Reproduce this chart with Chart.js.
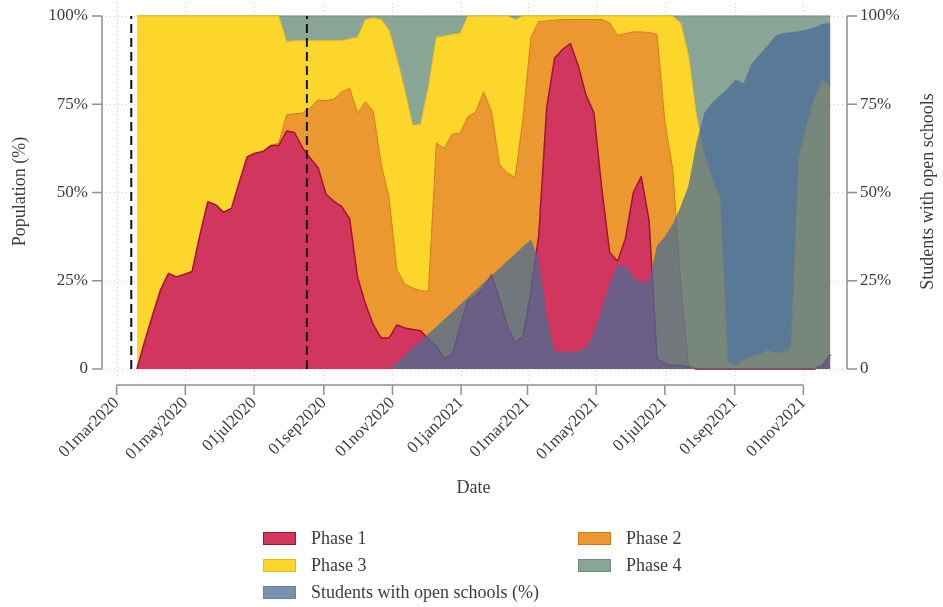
<!DOCTYPE html>
<html>
<head>
<meta charset="utf-8">
<script src="https://cdn.jsdelivr.net/npm/chart.js@4.4.1/dist/chart.umd.min.js"></script>
<style>
  html, body { margin: 0; padding: 0; background: #fff; overflow: hidden; }
  #wrap { position: relative; width: 943px; height: 607px; }
  #c { position: absolute; left: 0; top: 0; }
  #legend {
    position: absolute; left: 263px; top: 527px;
    display: grid; grid-template-columns: 315px 260px; row-gap: 5px;
    font-family: 'Liberation Serif', serif; font-size: 18px; color: #3c3c3c;
  }
  .item { display: flex; align-items: center; height: 22px; white-space: nowrap; }
  .sw { width: 33px; height: 13px; box-sizing: border-box; border: 1px solid; margin-right: 15px; flex: none; }
</style>
</head>
<body>
<div id="wrap">
  <canvas id="c" width="943" height="607"></canvas>
  <div id="legend"></div>
</div>
<script>
// Weekly observations (Thursdays), starting with the first week of data
const firstWeek = '2020-03-19';

// Share of population in each phase (%), one value per week
const phase1 = [
  0, 7.9, 15.3, 22.4, 27.1, 26.1, 26.8, 27.6, 38, 47.4,
  46.5, 44.4, 45.5, 53, 60.1, 61.1, 61.6, 63.3, 63.3, 67.4,
  67, 62.7, 59.7, 57, 49.5, 47.5, 46, 42.5, 26, 18.5,
  12.5, 8.8, 8.8, 12.5, 11.6, 11.2, 10.8, 8.5, 6.5, 3,
  4, 12, 19.5, 20.5, 23, 26.6, 20, 12, 7.5, 9,
  22, 38, 74, 88, 90.5, 92.2, 86, 77.5, 72.5, 51,
  33, 30.5, 37, 50, 54.5, 42, 3, 1.5, 1, 1,
  0.5, 0, 0, 0, 0, 0, 0, 0, 0, 0,
  0, 0, 0, 0, 0, 0, 0, 1, 4
];
const phase2 = [
  0, 0, 0, 0, 0, 0, 0, 0, 0, 0,
  0, 0, 0, 0, 0, 0, 0, 0, 0.7, 4.6,
  5.3, 9.8, 14.3, 19.2, 26.5, 29, 32.5, 37, 46.4, 57.2,
  60.5, 49.2, 39.7, 15.5, 12.4, 11.8, 11.4, 13.5, 57.5, 59.5,
  62.5, 54.8, 52, 52.3, 55.5, 46.4, 38, 43.5, 46.8, 62,
  72, 60.4, 24.6, 10.8, 8.5, 6.8, 13, 21.5, 26.5, 48,
  65, 64, 58, 45.5, 41, 53.3, 91.8, 68.5, 55.5, 24,
  0.5, 0, 0, 0, 0, 0, 0, 0, 0, 0,
  0, 0, 0, 0, 0, 0, 0, 0, 0
];
const phase3 = [
  100, 92.1, 84.7, 77.6, 72.9, 73.9, 73.2, 72.4, 62, 52.6,
  53.5, 55.6, 54.5, 47, 39.9, 38.9, 38.4, 36.7, 36, 20.7,
  20.7, 20.5, 19, 16.8, 17, 16.5, 14.5, 14, 21.6, 23.3,
  26.5, 41, 47.5, 60, 55, 46, 47.1, 58, 30, 31.8,
  28.3, 28.2, 28.5, 27.2, 21.5, 27, 42, 44.5, 44.7, 29,
  6, 1.6, 1.4, 1.2, 1, 1, 1, 1, 1, 1,
  2, 5.5, 5, 4.5, 4.5, 4.7, 5.2, 30, 43.5, 73,
  88, 72, 61, 54, 48.5, 2, 1.2, 2.5, 3.6, 4.3,
  5.2, 4.6, 4.8, 6, 60, 69, 77, 81, 76
];
const phase4 = [
  0, 0, 0, 0, 0, 0, 0, 0, 0, 0,
  0, 0, 0, 0, 0, 0, 0, 0, 0, 7.3,
  7, 7, 7, 7, 7, 7, 7, 6.5, 6, 1,
  0.5, 1, 4, 12, 21, 31, 30.7, 20, 6, 5.7,
  5.2, 5, 0, 0, 0, 0, 0, 0, 1, 0,
  0, 0, 0, 0, 0, 0, 0, 0, 0, 0,
  0, 0, 0, 0, 0, 0, 0, 0, 0, 2,
  11, 28, 39, 46, 51.5, 98, 98.8, 97.5, 96.4, 95.7,
  94.8, 95.4, 95.2, 94, 40, 31, 23, 18, 20
];

// Students with open schools (%), same weeks
const openSchools = [
  0, 0, 0, 0, 0, 0, 0, 0, 0, 0,
  0, 0, 0, 0, 0, 0, 0, 0, 0, 0,
  0, 0, 0, 0, 0, 0, 0, 0, 0, 0,
  0, 0, 0, 1.8, 3.8, 5.9, 7.9, 10, 12, 14.1,
  16.1, 18.2, 20.3, 22.3, 24.4, 26.5, 28.5, 30.6, 32.6, 34.7,
  36.7, 31, 15, 5, 4.8, 4.8, 5, 6, 10, 17,
  24, 29.5, 29, 26, 24.5, 25, 35, 37.5, 41, 46,
  52, 64, 72.5, 75.5, 77.5, 79.5, 82, 81, 86.5, 89,
  91.5, 94.3, 95.2, 95.4, 95.7, 96.2, 96.8, 97.8, 98
];

// Axis ticks and reference dates
const xTickLabels = ['01mar2020', '01may2020', '01jul2020', '01sep2020', '01nov2020', '01jan2021',
                     '01mar2021', '01may2021', '01jul2021', '01sep2021', '01nov2021'];
const yTicks = [0, 25, 50, 75, 100];
const xRange = ['2020-02-17', '2021-12-08'];
const eventDates = ['2020-03-14', '2020-08-17'];

const seriesNames = ['Phase 1', 'Phase 2', 'Phase 3', 'Phase 4', 'Students with open schools (%)'];
const leftTitle = 'Population (%)';
const rightTitle = 'Students with open schools';
const xTitle = 'Date';

// ---- date helpers: x values are days since 1 March 2020 ----
const ORIGIN = Date.UTC(2020, 2, 1);
const DAY = 86400000;
const MONTHS = {jan: 0, feb: 1, mar: 2, apr: 3, may: 4, jun: 5, jul: 6, aug: 7, sep: 8, oct: 9, nov: 10, dec: 11};
function dayFromIso(s) {
  const [y, m, d] = s.split('-').map(Number);
  return (Date.UTC(y, m - 1, d) - ORIGIN) / DAY;
}
function dayFromLabel(s) {
  return (Date.UTC(+s.slice(5), MONTHS[s.slice(2, 5)], +s.slice(0, 2)) - ORIGIN) / DAY;
}
const tickDays = xTickLabels.map(dayFromLabel);
const startDay = dayFromIso(firstWeek);
const weekX = phase1.map((_, i) => startDay + 7 * i);
const toPoints = vals => vals.map((v, i) => ({x: weekX[i], y: v}));

const FONT = "'Liberation Serif', serif";
const TEXT = '#3c3c3c';
const AXIS = '#8f8f8f';

const colors = {
  p1: {fill: 'rgb(208,54,94)', line: 'rgb(165,18,48)'},
  p2: {fill: 'rgb(236,152,48)', line: 'rgb(214,122,24)'},
  p3: {fill: 'rgb(253,214,44)', line: 'rgb(232,186,22)'},
  p4: {fill: 'rgb(136,165,150)', line: 'rgb(112,142,127)'},
  st: {fill: 'rgba(74,108,150,0.75)', line: 'rgba(74,108,150,0.75)'}
};

function phaseSet(label, vals, c, fill, width) {
  return {
    label, data: toPoints(vals), yAxisID: 'y', order: 2,
    backgroundColor: c.fill, borderColor: c.line, borderWidth: width,
    fill, pointRadius: 0, tension: 0
  };
}

const datasets = [
  phaseSet(seriesNames[0], phase1, colors.p1, 'origin', 1.5),
  phaseSet(seriesNames[1], phase2, colors.p2, '-1', 1),
  phaseSet(seriesNames[2], phase3, colors.p3, '-1', 1),
  phaseSet(seriesNames[3], phase4, colors.p4, '-1', 1),
  {
    label: seriesNames[4], data: toPoints(openSchools), yAxisID: 'y2', order: 1,
    backgroundColor: colors.st.fill, borderColor: colors.st.line, borderWidth: 0,
    fill: 'origin', pointRadius: 0, tension: 0
  }
];
eventDates.forEach(d => {
  const dx = dayFromIso(d);
  datasets.push({
    label: 'event', data: [{x: dx, y: 0}, {x: dx, y: 100}], yAxisID: 'y2', order: 0,
    borderColor: '#111', borderWidth: 2, borderDash: [9, 5], fill: false, pointRadius: 0
  });
});

// Stata-style frame: dotted grid under the areas, detached axes with outward ticks on top
const stataFrame = {
  id: 'stataFrame',
  beforeDatasetsDraw(chart) {
    const {ctx, chartArea: a, scales: {x, y}} = chart;
    ctx.save();
    ctx.strokeStyle = '#cdcdcd';
    ctx.lineWidth = 1;
    ctx.setLineDash([1, 3]);
    ctx.beginPath();
    yTicks.forEach(v => {
      const py = Math.round(y.getPixelForValue(v)) + 0.5;
      ctx.moveTo(a.left, py); ctx.lineTo(a.right, py);
    });
    tickDays.forEach(d => {
      const px = Math.round(x.getPixelForValue(d)) + 0.5;
      ctx.moveTo(px, a.top); ctx.lineTo(px, a.bottom);
    });
    ctx.stroke();
    ctx.restore();
  },
  afterDraw(chart) {
    const {ctx, chartArea: a, scales: {x, y}} = chart;
    const y0 = y.getPixelForValue(0), y100 = y.getPixelForValue(100);
    ctx.save();
    ctx.strokeStyle = AXIS;
    ctx.lineWidth = 1.5;
    ctx.setLineDash([]);
    ctx.beginPath();
    const lx = a.left;
    ctx.moveTo(lx, y100); ctx.lineTo(lx, y0);
    const rx = a.right + 2;
    ctx.moveTo(rx, y100); ctx.lineTo(rx, y0);
    yTicks.forEach(v => {
      const py = y.getPixelForValue(v);
      ctx.moveTo(lx, py); ctx.lineTo(lx - 10, py);
      ctx.moveTo(rx, py); ctx.lineTo(rx + 10, py);
    });
    const by = a.bottom + 5;
    ctx.moveTo(x.getPixelForValue(tickDays[0]), by);
    ctx.lineTo(x.getPixelForValue(tickDays[tickDays.length - 1]), by);
    tickDays.forEach(d => {
      const px = x.getPixelForValue(d);
      ctx.moveTo(px, by); ctx.lineTo(px, by + 10);
    });
    ctx.stroke();

    ctx.fillStyle = TEXT;
    ctx.font = '18px ' + FONT;
    ctx.textAlign = 'center';
    ctx.textBaseline = 'middle';
    ctx.translate(928, (a.top + a.bottom) / 2);
    ctx.rotate(-Math.PI / 2);
    ctx.fillText(rightTitle, 0, 0);
    ctx.restore();
  }
};

const yTickLabel = v => (v === 0 ? '0' : v + '%');
const setYTicks = s => { s.ticks = yTicks.map(v => ({value: v})); };

new Chart(document.getElementById('c'), {
  type: 'line',
  data: {datasets},
  options: {
    responsive: false,
    devicePixelRatio: 1,
    animation: false,
    layout: {padding: {top: 3, left: 0, right: 0, bottom: 0}},
    plugins: {legend: {display: false}, tooltip: {enabled: false}},
    elements: {line: {borderJoinStyle: 'round'}},
    scales: {
      x: {
        type: 'linear',
        min: dayFromIso(xRange[0]), max: dayFromIso(xRange[1]),
        grid: {display: false}, border: {display: false},
        afterBuildTicks: s => { s.ticks = tickDays.map(v => ({value: v})); },
        afterFit: s => { s.height = 227; s.paddingLeft = 0; s.paddingRight = 0; },
        ticks: {
          autoSkip: false, minRotation: 45, maxRotation: 45, padding: 5,
          color: TEXT, font: {family: FONT, size: 17},
          callback: (v, i) => xTickLabels[i]
        },
        title: {display: true, text: xTitle, color: TEXT, font: {family: FONT, size: 18},
                padding: {top: 0, bottom: 108}}
      },
      y: {
        type: 'linear', position: 'left', stacked: true,
        min: -3.12, max: 103.68,
        grid: {display: false}, border: {display: false},
        afterBuildTicks: setYTicks,
        afterFit: s => { s.width = 102; s.paddingTop = 0; s.paddingBottom = 0; },
        ticks: {padding: 6, color: TEXT, font: {family: FONT, size: 17}, callback: yTickLabel},
        title: {display: true, text: leftTitle, color: TEXT, font: {family: FONT, size: 18},
                padding: {top: 9, bottom: 0}}
      },
      y2: {
        type: 'linear', position: 'right', stacked: false,
        min: -3.12, max: 103.68,
        grid: {display: false}, border: {display: false},
        afterBuildTicks: setYTicks,
        afterFit: s => { s.width = 98; s.paddingTop = 0; s.paddingBottom = 0; },
        ticks: {padding: 7, color: TEXT, font: {family: FONT, size: 17}, callback: yTickLabel}
      }
    }
  },
  plugins: [stataFrame]
});

// Two-column legend below the plot
const legend = document.getElementById('legend');
[['p1', 0], ['p2', 1], ['p3', 2], ['p4', 3], ['st', 4]].forEach(([key, i]) => {
  const item = document.createElement('div');
  item.className = 'item';
  const sw = document.createElement('span');
  sw.className = 'sw';
  sw.style.background = colors[key].fill;
  sw.style.borderColor = key === 'st' ? 'rgba(74,108,150,0.4)' : colors[key].line;
  const txt = document.createElement('span');
  txt.textContent = seriesNames[i];
  item.appendChild(sw);
  item.appendChild(txt);
  legend.appendChild(item);
});
</script>
</body>
</html>
